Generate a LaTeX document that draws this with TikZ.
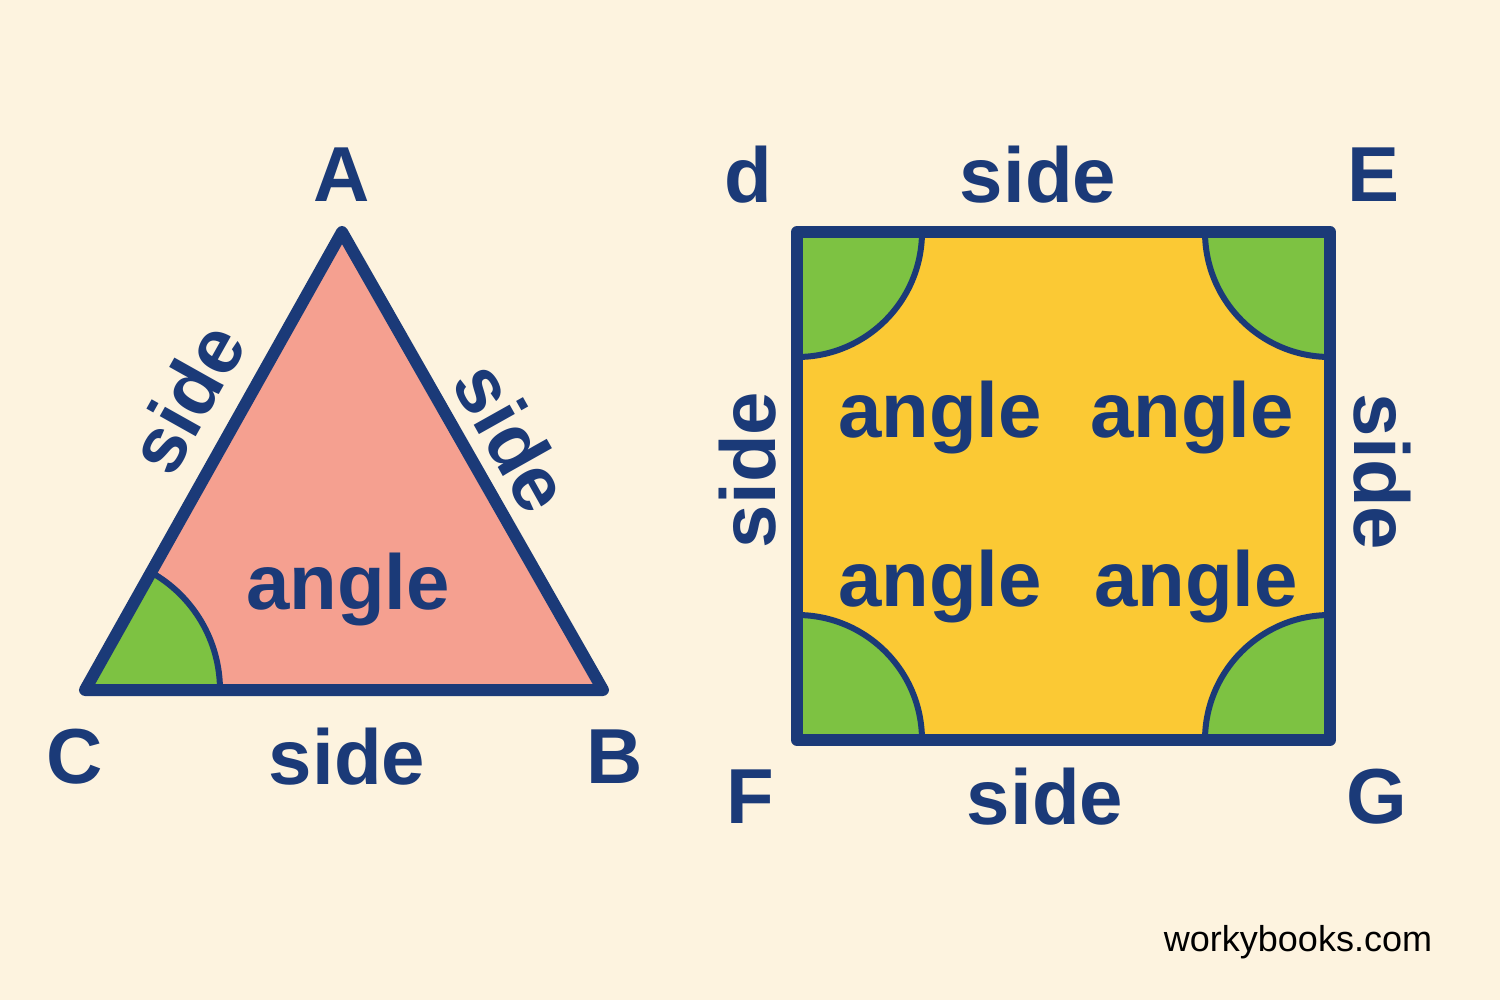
\documentclass[tikz,border=0pt]{standalone}
\usepackage{fontspec}
\setmainfont{Liberation Sans}
\definecolor{bg}{HTML}{FDF3DF}
\definecolor{navy}{HTML}{1B3A78}
\definecolor{salmon}{HTML}{F5A090}
\definecolor{yel}{HTML}{FBC934}
\definecolor{grn}{HTML}{7DC242}
\begin{document}
\begin{tikzpicture}[x=1pt,y=-1pt,
  lab/.style={text=navy,font=\fontsize{78}{80}\selectfont\bfseries,inner sep=0pt},
  ang/.style={text=navy,font=\fontsize{78}{80}\selectfont\bfseries,inner sep=0pt},
  edge/.style={draw=navy,line width=12pt,line join=round,line cap=round},
  arcl/.style={draw=navy,line width=6pt}]
\fill[bg] (0,0) rectangle (1500,1000);
\useasboundingbox (0,0) rectangle (1500,1000);
% triangle
\coordinate (A) at (342,232); \coordinate (B) at (603,690); \coordinate (C) at (85,690);
\fill[salmon] (A)--(B)--(C)--cycle;
\fill[grn] (C) -- (220,690) arc[start angle=0,end angle=-60.7,radius=135] -- cycle;
\draw[arcl] (220,690) arc[start angle=0,end angle=-60.7,radius=135];
\draw[edge] (A)--(B)--(C)--cycle;
% square
\coordinate (D) at (797,232); \coordinate (E) at (1330,232);
\coordinate (G) at (1330,740); \coordinate (F) at (797,740);
\fill[yel] (D) rectangle (G);
\foreach \p/\s in {D/90,E/180,G/270,F/360}{
  \fill[grn] (\p) -- ++(\s:125) arc[start angle=\s,end angle=\s-90,radius=125] -- cycle;
  \draw[arcl] (\p) ++(\s:125) arc[start angle=\s,end angle=\s-90,radius=125];
}
\draw[edge] (D) rectangle (G);
% labels
\node[lab] (lA) at (342,175) {A};
\node[lab] (lC) at (75,757) {C};
\node[lab] (lB) at (615,757) {B};
\node[lab] (ld) at (748,175) {d};
\node[lab] (lE) at (1373,175) {E};
\node[lab] (lF) at (750,797) {F};
\node[lab] (lG) at (1377,797) {G};
\node[lab] (s1) at (1038,175) {side};
\node[lab] (s2) at (1045,797) {side};
\node[lab] (s3) at (347,757) {side};
\node[lab,rotate=90] (s4) at (748,470) {side};
\node[lab,rotate=-90] (s5) at (1382,472) {side};
\node[lab,rotate=60.7] (s6) at (186,398) {side};
\node[lab,rotate=-60.7] (s7) at (513,437) {side};
\node[ang] (a1) at (348,590) {angle};
\node[ang] (a2) at (940,418) {angle};
\node[ang] (a3) at (1192,418) {angle};
\node[ang] (a4) at (940,587) {angle};
\node[ang] (a5) at (1196,587) {angle};
\node[font=\fontsize{36}{38}\selectfont,inner sep=0pt] (w) at (1298,942) {workybooks.com};
\end{tikzpicture}
\end{document}
